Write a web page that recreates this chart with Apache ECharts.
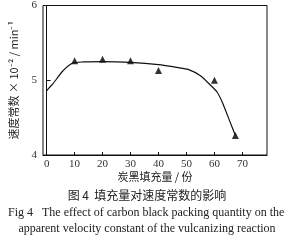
<!DOCTYPE html>
<html><head><meta charset="utf-8">
<script src="https://cdn.jsdelivr.net/npm/echarts@6/dist/echarts.min.js"></script>
<style>html,body{margin:0;padding:0;background:#fff}#c{width:294px;height:240px}</style>
</head><body><div id="c"></div>
<script>
const pointX = [10, 20, 30, 40, 60, 67.5];
const pointY = [5.26, 5.28, 5.26, 5.13, 5.0, 4.26];
const curveX = [0, 2.2, 5.7, 9.3, 13, 20, 30, 40, 47, 50.6, 55, 58.7, 61, 63, 65.4, 67.5];
const curveY = [4.86, 4.95, 5.12, 5.23, 5.245, 5.25, 5.24, 5.21, 5.17, 5.145, 5.06, 4.93, 4.84, 4.69, 4.46, 4.26];
const xTicks = [0, 10, 20, 30, 40, 50, 60, 70];
const yTicks = [4, 5, 6];
const xName = '炭黑填充量 / 份';
const yName = '速度常数 × 10⁻² / min⁻¹';
const captions = ['图 4  填充量对速度常数的影响',
  'Fig 4   The effect of carbon black packing quantity on the',
  'apparent velocity constant of the vulcanizing reaction'];

const lserif = '"Liberation Serif","DejaVu Serif",serif';
const cjk = '"Noto Sans CJK SC","Liberation Serif",serif';
const chart = echarts.init(document.getElementById('c'), null, {renderer: 'canvas'});
chart.setOption({
  animation: false,
  grid: {left: 40, top: 3, width: 227, height: 152, show: true, borderColor: '#111', borderWidth: 1},
  title: [
    {text: captions[0], left: 'center', top: 184, textStyle: {fontFamily: cjk, fontSize: 12, fontWeight: 'normal', color: '#222'}},
    {text: captions[1], left: 3, top: 202, textStyle: {fontFamily: lserif, fontSize: 12, fontWeight: 'normal', color: '#222'}},
    {text: captions[2], left: 'center', top: 218, textStyle: {fontFamily: lserif, fontSize: 12, fontWeight: 'normal', color: '#222'}}
  ],
  xAxis: {
    type: 'value', min: -1.3, max: 78.8,
    name: xName, nameLocation: 'middle', nameGap: 16, nameMoveOverlap: false,
    nameTextStyle: {fontFamily: cjk, fontSize: 11, color: '#222'},
    axisLine: {lineStyle: {color: '#111'}},
    axisTick: {inside: true, length: 3, customValues: xTicks, lineStyle: {color: '#111'}},
    axisLabel: {customValues: xTicks, fontFamily: lserif, fontSize: 11, color: '#333', margin: 4},
    splitLine: {show: false}
  },
  yAxis: {
    type: 'value', min: 4, max: 6, interval: 1,
    name: yName, nameLocation: 'middle', nameGap: 24, nameRotate: 90, nameMoveOverlap: false,
    nameTextStyle: {fontFamily: cjk, fontSize: 11, color: '#222'},
    axisLine: {lineStyle: {color: '#111'}},
    axisTick: {inside: true, length: 4, lineStyle: {color: '#111'}},
    axisLabel: {fontFamily: lserif, fontSize: 11, color: '#333', margin: 6},
    splitLine: {show: false}
  },
  series: [
    {type: 'line', data: curveX.map((x, i) => [x, curveY[i]]), smooth: 0.2, showSymbol: false,
     lineStyle: {color: '#111', width: 1.2}},
    {type: 'scatter', data: pointX.map((x, i) => [x, pointY[i]]), symbol: 'triangle', symbolSize: 7,
     itemStyle: {color: '#000'}}
  ]
});
</script></body></html>
